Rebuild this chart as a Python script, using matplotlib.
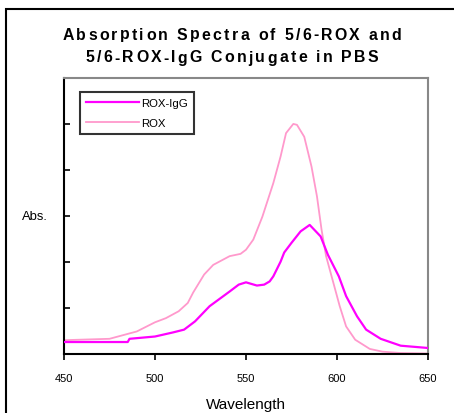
import matplotlib
matplotlib.use("Agg")
import matplotlib.pyplot as plt
from matplotlib.patches import Rectangle

plt.rcParams["font.family"] = ["Liberation Sans", "DejaVu Sans"]

# --- data (wavelength nm, absorbance a.u.) ---
rox_wl = [450, 475, 490, 500, 506, 513, 518, 521, 527, 532, 541, 547, 550,
          554, 559, 565, 569, 572, 576, 578, 582, 586, 589, 591.5, 594, 598,
          601.5, 605, 610, 618, 625, 635, 650]
rox_abs = [0.29, 0.32, 0.48, 0.68, 0.77, 0.92, 1.10, 1.33, 1.72, 1.93, 2.12,
           2.17, 2.26, 2.48, 2.98, 3.71, 4.29, 4.80, 5.00, 4.98, 4.72, 4.07,
           3.42, 2.70, 2.12, 1.54, 1.03, 0.59, 0.30, 0.10, 0.04, 0.01, 0.0]

igg_wl = [450, 485, 486, 500, 510, 516, 522, 530, 541, 546, 550, 556, 560,
          563, 565, 569, 571, 575, 580, 585, 591, 595, 601, 605, 611, 616,
          624, 635, 650]
igg_abs = [0.25, 0.25, 0.32, 0.37, 0.46, 0.52, 0.70, 1.03, 1.35, 1.50, 1.55,
           1.48, 1.50, 1.57, 1.68, 2.00, 2.20, 2.41, 2.66, 2.80, 2.55, 2.15,
           1.68, 1.25, 0.81, 0.52, 0.32, 0.17, 0.12]

x_ticks = [450, 500, 550, 600, 650]
title_lines = ["Absorption Spectra of 5/6-ROX and",
               "5/6-ROX-IgG Conjugate in PBS"]


def spaced_text(fig, s, xc, y, extra_px, **kw):
    """Draw s centred at figure x=xc with extra letter spacing (pixels)."""
    r = fig.canvas.get_renderer()
    W = fig.get_figwidth() * fig.dpi
    prop = matplotlib.font_manager.FontProperties(
        family="Liberation Sans", weight=kw.get("fontweight", "normal"),
        size=kw.get("fontsize", 10))

    def tw(t):
        return r.get_text_width_height_descent(t, prop, ismath=False)[0]

    base = tw("HH")
    # advance width of each char, measured between two H's
    widths = [tw("H" + ch + "H") - base for ch in s]
    total = sum(widths) + extra_px * (len(s) - 1)
    x = xc * W - total / 2
    for ch, w in zip(s, widths):
        fig.text(x / W, y, ch, ha="left", va="center", fontproperties=prop)
        x += w + extra_px


fig = plt.figure(figsize=(4.54, 4.14), dpi=100)
ax = fig.add_axes([64 / 454, 1 - 354.5 / 414, (428 - 64) / 454, (354.5 - 79) / 414])

ax.plot(rox_wl, rox_abs, color="#ff99cc", lw=1.3, label="ROX", zorder=2)
ax.plot(igg_wl, igg_abs, color="#ff00ff", lw=1.6, label="ROX-IgG", zorder=3)

ax.set_xlim(450, 650)
ax.set_ylim(0, 6)
ax.set_xticks(x_ticks)
ax.set_xticklabels([str(t) for t in x_ticks], fontsize=8)
ax.set_yticks(range(0, 7))
ax.set_yticklabels([])
ax.tick_params(axis="x", direction="out", length=4, width=1.2, pad=10)
ax.tick_params(axis="y", direction="in", length=4, width=1.2)
for side in ("left", "bottom"):
    ax.spines[side].set_color("black")
    ax.spines[side].set_linewidth(1.5)
for side in ("top", "right"):
    ax.spines[side].set_color("#888888")
    ax.spines[side].set_linewidth(1.5)

ax.set_xlabel("Wavelength", fontsize=11, labelpad=10)
fig.text(35 / 454, 1 - 217 / 414, "Abs.", fontsize=9.4, ha="center", va="center")

handles, labels = ax.get_legend_handles_labels()
leg = ax.legend(handles[::-1], labels[::-1], loc="upper left",
                bbox_to_anchor=(80 / 454, 1 - 93 / 414),
                bbox_transform=fig.transFigure, borderaxespad=0,
                fontsize=8.2, frameon=True, fancybox=False,
                handlelength=4.7, handletextpad=0.2, labelspacing=0.9,
                borderpad=0.5)
leg.get_frame().set_edgecolor("black")
leg.get_frame().set_linewidth(1.5)

spaced_text(fig, title_lines[0], 232 / 454, 1 - 35 / 414, 2.3,
            fontsize=11.4, fontweight="bold")
spaced_text(fig, title_lines[1], 232 / 454, 1 - 58 / 414, 2.3,
            fontsize=11.4, fontweight="bold")

# outer frame (right/bottom edges fall outside the image)
fig.patches.append(Rectangle((6 / 454, -0.1), 1.2, 1.1 - 10 / 414,
                             transform=fig.transFigure, fill=False,
                             edgecolor="black", lw=1.5, clip_on=False))

fig.savefig("out.png", dpi=100)
